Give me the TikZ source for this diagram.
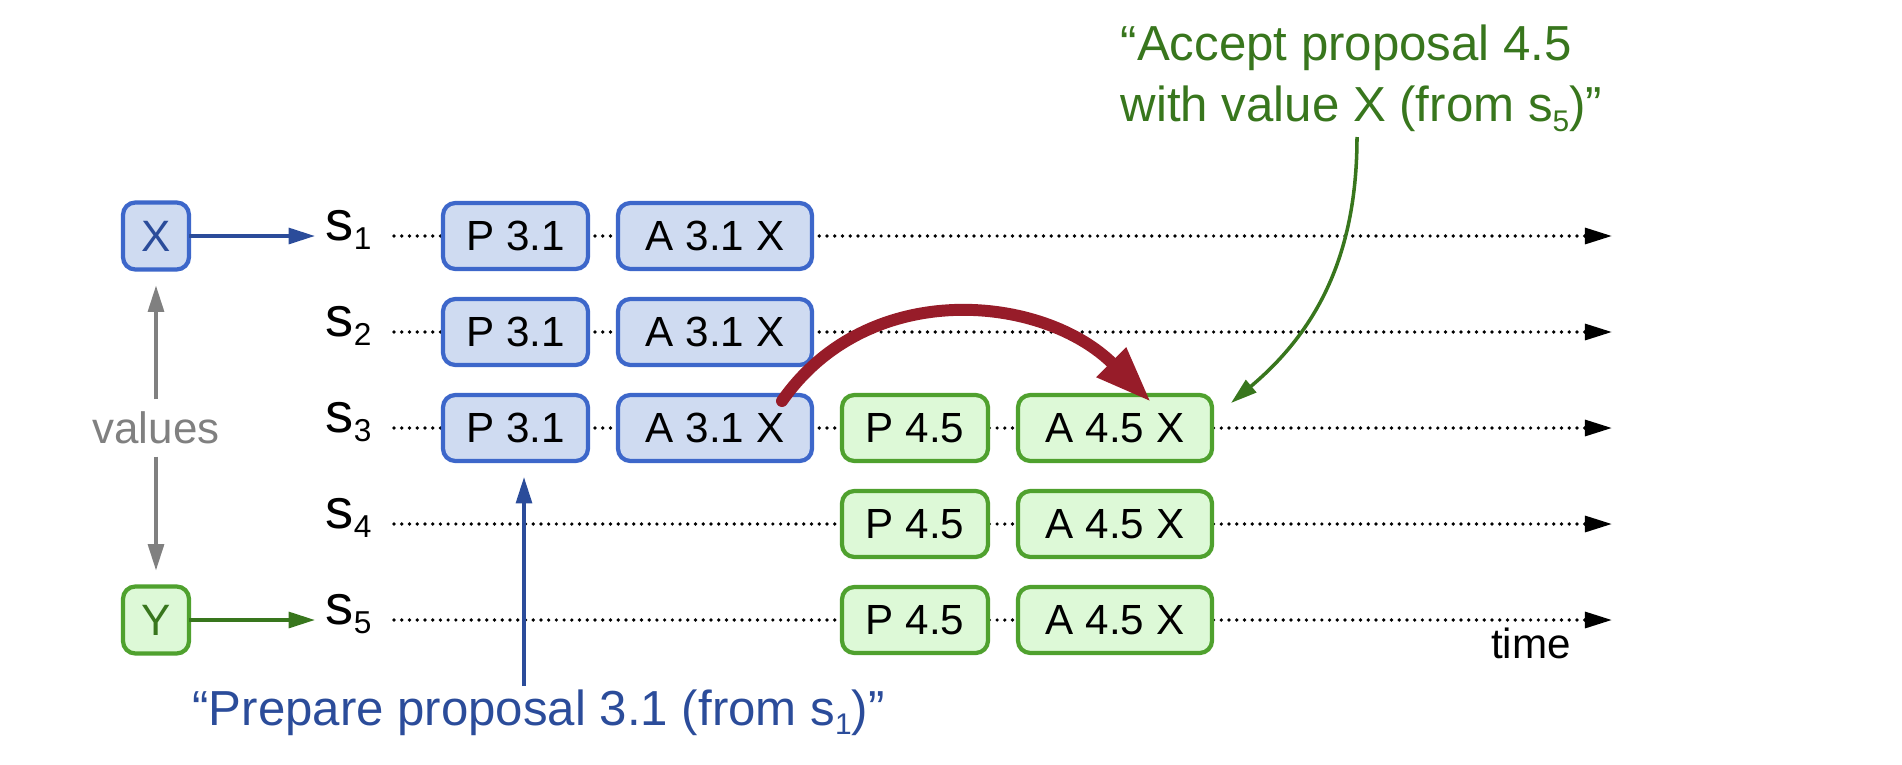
\documentclass[tikz,border=0pt]{standalone}
\usepackage{fontspec}
\setmainfont{Liberation Sans}
\usepackage{tikz}
\usepackage{xcolor}
\usetikzlibrary{shapes,arrows,arrows.meta,positioning}

\definecolor{boxblue}{HTML}{CFDBF1}
\definecolor{lineblue}{HTML}{3D67CA}
\definecolor{boxgreen}{HTML}{DDF9D7}
\definecolor{linegreen}{HTML}{4FA12E}
\definecolor{textblue}{HTML}{2B4C9A}
\definecolor{textgreen}{HTML}{38761D}
\definecolor{arcred}{HTML}{971C29}

\newcommand{\lowdigit}[1]{\raisebox{-2.6pt}{\fontsize{8.5}{8.5}\selectfont #1}}
\newcommand{\srv}[1]{{\fontsize{16}{16}\selectfont s}\raisebox{-2.8pt}{\fontsize{9}{9}\selectfont #1}}

\begin{document}
\begin{tikzpicture}[auto, node distance=0.3cm, >={Triangle[length=7.5pt,width=4.5pt]},
  bluebox/.style={rectangle, rounded corners=3.5pt, draw=lineblue, line width=1.2pt, fill=boxblue,
    minimum height=0.66cm, inner sep=0pt, outer sep=0pt, font=\fontsize{12}{12}\selectfont},
  greenbox/.style={bluebox, draw=linegreen, fill=boxgreen},
  slabel/.style={inner sep=0.1cm, anchor=base west},
  timeline/.style={line width=1.05pt, dash pattern=on 0pt off 2.2pt, line cap=round,
    -{Triangle[length=7.7pt,width=4.5pt]}},
  bluearr/.style={draw=textblue, line width=1pt, ->},
  greenarr/.style={draw=textgreen, line width=1pt, ->},
  grayarr/.style={draw=gray, line width=1pt, ->}]

\useasboundingbox (0,0) rectangle (19.02,7.64);

% servers and their time lines
\node[slabel] (s1) at (3.15,5.24) {\srv{1}};
\node[slabel] (s2) at (3.15,4.28) {\srv{2}};
\node[slabel] (s3) at (3.15,3.32) {\srv{3}};
\node[slabel] (s4) at (3.15,2.36) {\srv{4}};
\node[slabel] (s5) at (3.15,1.40) {\srv{5}};

\coordinate (t1) at (3.94,5.28);
\coordinate (t2) at (3.94,4.32);
\coordinate (t3) at (3.94,3.36);
\coordinate (t4) at (3.94,2.40);
\coordinate (t5) at (3.94,1.44);
\coordinate (e1) at (16.12,5.28);
\coordinate (e2) at (16.12,4.32);
\coordinate (e3) at (16.12,3.36);
\coordinate (e4) at (16.12,2.40);
\coordinate (e5) at (16.12,1.44);

\draw[timeline] (t1) -- (e1);
\draw[timeline] (t2) -- (e2);
\draw[timeline] (t3) -- (e3);
\draw[timeline] (t4) -- (e4);
\draw[timeline] (t5) -- (e5);

\node[font=\fontsize{12}{12}\selectfont, anchor=base] (tm) at (15.31,1.06) {time};

% values
\node[bluebox, minimum width=0.66cm, minimum height=0.67cm, text=textblue, font=\fontsize{12.5}{12.5}\selectfont] (vx) at (1.56,5.28) {X};
\node[greenbox, minimum width=0.66cm, minimum height=0.67cm, text=textgreen, font=\fontsize{12.5}{12.5}\selectfont] (vy) at (1.56,1.44) {Y};
\node[text=gray, font=\fontsize{12.5}{12.5}\selectfont] (vals) at (1.56,3.36) {values};

\draw[bluearr] (vx) -- (vx -| s1.west);
\draw[greenarr] (vy) -- (vy -| s5.west);
\draw[grayarr, shorten >=0.16cm] (vals) -- (vx);
\draw[grayarr, shorten >=0.16cm] (vals) -- (vy);

% proposal 3.1
\node[bluebox, minimum width=1.45cm] (p1) at (5.155,5.28) {P 3.1};
\node[bluebox, minimum width=1.94cm, right=of p1] (a1) {A 3.1 X};
\node[bluebox, minimum width=1.45cm, below=of p1] (p2) {P 3.1};
\node[bluebox, minimum width=1.94cm, right=of p2] (a2) {A 3.1 X};
\node[bluebox, minimum width=1.45cm, below=of p2] (p3) {P 3.1};
\node[bluebox, minimum width=1.94cm, right=of p3] (a3) {A 3.1 X};

% proposal 4.5
\node[greenbox, minimum width=1.46cm, right=of a3] (q3) {P 4.5};
\node[greenbox, minimum width=1.94cm, right=of q3] (b3) {A 4.5 X};
\node[greenbox, minimum width=1.46cm, below=of q3] (q4) {P 4.5};
\node[greenbox, minimum width=1.94cm, right=of q4] (b4) {A 4.5 X};
\node[greenbox, minimum width=1.46cm, below=of q4] (q5) {P 4.5};
\node[greenbox, minimum width=1.94cm, right=of q5] (b5) {A 4.5 X};

% notes
\node[text=textblue, anchor=base, font=\fontsize{14}{14}\selectfont] (prep) at (5.385,0.39) {“Prepare proposal 3.1 (from s\lowdigit{1})”};
\coordinate (pp) at (5.24,0.78);
\draw[bluearr, shorten >=0.16cm] (pp) -- (pp |- p3.south);

\node[text=textgreen, align=left, anchor=north west, inner sep=0pt, font=\fontsize{14}{17.5}\selectfont] (acc) at (11.20,7.40) {“Accept proposal 4.5\\with value X (from s\lowdigit{5})”};
\coordinate (g0) at (13.57,6.27);
\draw[greenarr] (g0) to[out=-90,in=40] ([xshift=0.19cm,yshift=-0.08cm]b3.north east);

\draw[arcred, line width=3.4pt, line cap=round, -{Triangle[length=16pt,width=11pt]}]
  ([xshift=-0.30cm,yshift=-0.06cm]a3.north east) to[out=55,in=135,looseness=1.05] ([xshift=-0.61cm,yshift=-0.07cm]b3.north east);

\end{tikzpicture}
\end{document}
